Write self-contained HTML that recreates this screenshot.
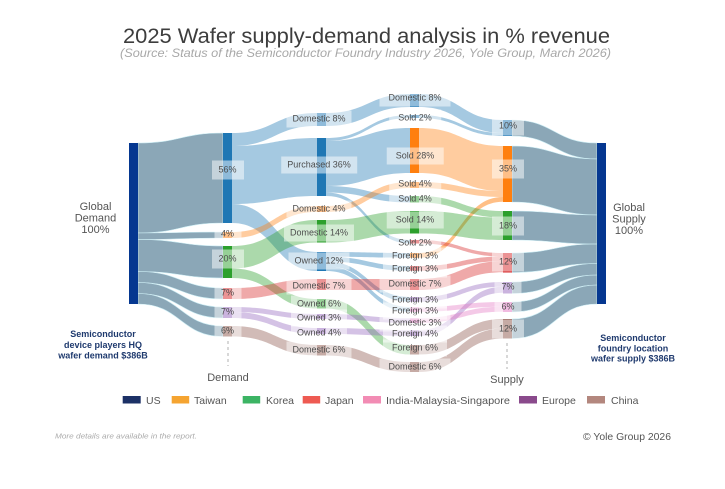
<!DOCTYPE html>
<html>
<head>
<meta charset="utf-8">
<style>
html,body{margin:0;padding:0;background:#fff;}
#wrap{position:relative;width:725px;height:489px;overflow:hidden;background:#fff;font-family:"Liberation Sans",Arial,sans-serif;}
svg{position:absolute;left:0;top:0;}
.lb{position:absolute;transform:translate(-50%,-50%);background:rgba(255,255,255,0.5);color:#4d4d4d;font-size:9px;line-height:11px;white-space:nowrap;font-family:"Liberation Sans",Arial,sans-serif;}
.c1{padding:4px 7px;}
.c2{padding:3px 6px;}
.c3{padding:3px 9px;}
.c4{padding:4px 7px;}
</style>
</head>
<body>
<div id="wrap">
<svg width="725" height="489" viewBox="0 0 725 489" xmlns="http://www.w3.org/2000/svg">
  <!-- Title -->
  <text x="366.5" y="43" text-anchor="middle" font-family="Liberation Sans, Arial, sans-serif" font-size="21.5" fill="#3d3d3d" textLength="487" lengthAdjust="spacingAndGlyphs">2025 Wafer supply-demand analysis in % revenue</text>
  <text x="365.5" y="57" text-anchor="middle" font-family="Liberation Sans, Arial, sans-serif" font-size="11.5" font-style="italic" fill="#a8a8a8" textLength="491" lengthAdjust="spacingAndGlyphs">(Source: Status of the Semiconductor Foundry Industry 2026, Yole Group, March 2026)</text>

  <!-- Gray links: Global demand -> col1 -->
  <g fill="#8ba7b7" stroke="#cdeef5" stroke-width="0.6">
    <path d="M138 143C180.5 143 180.5 133 223 133L223 223C180.5 223 180.5 233 138 233Z"/>
    <path d="M138 233C180.5 233 180.5 232 223 232L223 238C180.5 238 180.5 239.5 138 239.5Z"/>
    <path d="M138 239.5C180.5 239.5 180.5 246 223 246L223 278C180.5 278 180.5 271.5 138 271.5Z"/>
    <path d="M138 271.5C180.5 271.5 180.5 288 223 288L223 299C180.5 299 180.5 282.5 138 282.5Z"/>
    <path d="M138 282.5C180.5 282.5 180.5 307 223 307L223 318C180.5 318 180.5 293.5 138 293.5Z"/>
    <path d="M138 293.5C180.5 293.5 180.5 326 223 326L223 336.5C180.5 336.5 180.5 304 138 304Z"/>
  </g>

  <!-- col1 -> col2 -->
  <g>
    <path fill="rgba(31,119,180,0.4)" d="M232 133C274.5 133 274.5 113 317 113L317 126C274.5 126 274.5 146 232 146Z"/>
    <path fill="rgba(31,119,180,0.4)" d="M232 146C274.5 146 274.5 138 317 138L317 196C274.5 196 274.5 204 232 204Z"/>
    <path fill="rgba(31,119,180,0.4)" d="M232 204C274.5 204 274.5 252 317 252L317 271C274.5 271 274.5 223 232 223Z"/>
    <path fill="rgba(255,127,14,0.4)" d="M232 232C274.5 232 274.5 206 317 206L317 212C274.5 212 274.5 238 232 238Z"/>
    <path fill="rgba(44,160,44,0.4)" d="M232 246C274.5 246 274.5 220 317 220L317 242.5C274.5 242.5 274.5 268.5 232 268.5Z"/>
    <path fill="rgba(44,160,44,0.4)" d="M232 268.5C274.5 268.5 274.5 299 317 299L317 308.5C274.5 308.5 274.5 278 232 278Z"/>
    <path fill="rgba(214,39,40,0.4)" d="M232 288C274.5 288 274.5 279 317 279L317 290C274.5 290 274.5 299 232 299Z"/>
    <path fill="rgba(148,103,189,0.4)" d="M232 307C274.5 307 274.5 314 317 314L317 319C274.5 319 274.5 312 232 312Z"/>
    <path fill="rgba(148,103,189,0.4)" d="M232 312C274.5 312 274.5 328 317 328L317 334C274.5 334 274.5 318 232 318Z"/>
    <path fill="rgba(140,86,75,0.4)" d="M232 326C274.5 326 274.5 345 317 345L317 355.5C274.5 355.5 274.5 336.5 232 336.5Z"/>
  </g>

  <!-- col2 -> col3 -->
  <g>
    <path fill="rgba(31,119,180,0.4)" d="M326 113C368 113 368 94 410 94L410 107C368 107 368 126 326 126Z"/>
    <path fill="rgba(31,119,180,0.4)" d="M326 138C368 138 368 115 410 115L410 118C368 118 368 141 326 141Z"/>
    <path fill="rgba(31,119,180,0.4)" d="M326 141C368 141 368 128 410 128L410 173C368 173 368 186 326 186Z"/>
    <path fill="rgba(31,119,180,0.4)" d="M326 186C368 186 368 196 410 196L410 202.5C368 202.5 368 192.5 326 192.5Z"/>
    <path fill="rgba(31,119,180,0.4)" d="M326 192.5C368 192.5 368 240 410 240L410 243.5C368 243.5 368 196 326 196Z"/>
    <path fill="rgba(255,127,14,0.4)" d="M326 206C368 206 368 182 410 182L410 188C368 188 368 212 326 212Z"/>
    <path fill="rgba(44,160,44,0.4)" d="M326 220C368 220 368 211 410 211L410 233.5C368 233.5 368 242.5 326 242.5Z"/>
    <path fill="rgba(31,119,180,0.4)" d="M326 252C368 252 368 253 410 253L410 257.75C368 257.75 368 256.75 326 256.75Z"/>
    <path fill="rgba(31,119,180,0.4)" d="M326 256.75C368 256.75 368 266 410 266L410 270.75C368 270.75 368 261.5 326 261.5Z"/>
    <path fill="rgba(31,119,180,0.4)" d="M326 261.5C368 261.5 368 297 410 297L410 301.75C368 301.75 368 266.25 326 266.25Z"/>
    <path fill="rgba(31,119,180,0.4)" d="M326 266.25C368 266.25 368 307 410 307L410 311.75C368 311.75 368 271 326 271Z"/>
    <path fill="rgba(214,39,40,0.4)" d="M326 279L410 279L410 290L326 290Z"/>
    <path fill="rgba(44,160,44,0.4)" d="M326 299C368 299 368 345 410 345L410 354.5C368 354.5 368 308.5 326 308.5Z"/>
    <path fill="rgba(148,103,189,0.4)" d="M326 314C368 314 368 318 410 318L410 323C368 323 368 319 326 319Z"/>
    <path fill="rgba(148,103,189,0.4)" d="M326 328C368 328 368 330 410 330L410 336C368 336 368 334 326 334Z"/>
    <path fill="rgba(140,86,75,0.4)" d="M326 345C368 345 368 362 410 362L410 372C368 372 368 355.5 326 355.5Z"/>
  </g>

  <!-- col3 -> col4 -->
  <g>
    <path fill="rgba(31,119,180,0.4)" d="M419 94C461 94 461 120 503 120L503 133C461 133 461 107 419 107Z"/>
    <path fill="rgba(31,119,180,0.4)" d="M419 115C461 115 461 133 503 133L503 136C461 136 461 118 419 118Z"/>
    <path fill="rgba(255,127,14,0.4)" d="M419 128C461 128 461 146 503 146L503 191C461 191 461 173 419 173Z"/>
    <path fill="rgba(255,127,14,0.4)" d="M419 182C461 182 461 191 503 191L503 197C461 197 461 188 419 188Z"/>
    <path fill="rgba(255,127,14,0.5)" d="M419 253C461 253 461 197 503 197L503 201.75C461 201.75 461 257.75 419 257.75Z"/>
    <path fill="rgba(44,160,44,0.4)" d="M419 196C461 196 461 211 503 211L503 217.5C461 217.5 461 202.5 419 202.5Z"/>
    <path fill="rgba(44,160,44,0.4)" d="M419 211C461 211 461 217.5 503 217.5L503 240C461 240 461 233.5 419 233.5Z"/>
    <path fill="rgba(214,39,40,0.4)" d="M419 240C461 240 461 253 503 253L503 256.5C461 256.5 461 243.5 419 243.5Z"/>
    <path fill="rgba(214,39,40,0.4)" d="M419 266C461 266 461 256.5 503 256.5L503 261.25C461 261.25 461 270.75 419 270.75Z"/>
    <path fill="rgba(214,39,40,0.4)" d="M419 279C461 279 461 261.25 503 261.25L503 272.25C461 272.25 461 290 419 290Z"/>
    <path fill="rgba(148,103,189,0.4)" d="M419 297C461 297 461 282 503 282L503 286.75C461 286.75 461 301.75 419 301.75Z"/>
    <path fill="rgba(148,103,189,0.4)" d="M419 330C461 330 461 286.75 503 286.75L503 292.75C461 292.75 461 336 419 336Z"/>
    <path fill="rgba(227,119,194,0.4)" d="M419 307C461 307 461 302 503 302L503 306.75C461 306.75 461 311.75 419 311.75Z"/>
    <path fill="rgba(227,119,194,0.4)" d="M419 318C461 318 461 306.75 503 306.75L503 311.75C461 311.75 461 323 419 323Z"/>
    <path fill="rgba(140,86,75,0.4)" d="M419 345C461 345 461 319 503 319L503 328.5C461 328.5 461 354.5 419 354.5Z"/>
    <path fill="rgba(140,86,75,0.4)" d="M419 362C461 362 461 328.5 503 328.5L503 338.5C461 338.5 461 372 419 372Z"/>
  </g>

  <!-- Gray links col4 -> Global supply -->
  <g fill="#8ba7b7" stroke="#cdeef5" stroke-width="0.6">
    <path d="M512 120C554.5 120 554.5 143 597 143L597 159C554.5 159 554.5 136 512 136Z"/>
    <path d="M512 146C554.5 146 554.5 159 597 159L597 215C554.5 215 554.5 202 512 202Z"/>
    <path d="M512 211C554.5 211 554.5 215 597 215L597 244C554.5 244 554.5 240 512 240Z"/>
    <path d="M512 253C554.5 253 554.5 244 597 244L597 263.5C554.5 263.5 554.5 272.5 512 272.5Z"/>
    <path d="M512 282C554.5 282 554.5 263.5 597 263.5L597 275C554.5 275 554.5 293.5 512 293.5Z"/>
    <path d="M512 302C554.5 302 554.5 275 597 275L597 285C554.5 285 554.5 312 512 312Z"/>
    <path d="M512 319C554.5 319 554.5 285 597 285L597 304C554.5 304 554.5 338.5 512 338.5Z"/>
  </g>

  <!-- Nodes -->
  <rect x="129" y="143" width="9" height="161" fill="#053790"/>
  <rect x="597" y="143" width="9" height="161" fill="#053790"/>

  <!-- col1 -->
  <rect x="223" y="133" width="9" height="90" fill="#1f77b4"/>
  <rect x="223" y="232" width="9" height="6" fill="#ff7f0e"/>
  <rect x="223" y="246" width="9" height="32" fill="#2ca02c"/>
  <rect x="223" y="288" width="9" height="11" fill="#d62728"/>
  <rect x="223" y="307" width="9" height="11" fill="#9467bd"/>
  <rect x="223" y="326" width="9" height="10.5" fill="#8c564b"/>

  <!-- col2 -->
  <rect x="317" y="113" width="9" height="13" fill="#1f77b4"/>
  <rect x="317" y="138" width="9" height="58" fill="#1f77b4"/>
  <rect x="317" y="206" width="9" height="6" fill="#ff7f0e"/>
  <rect x="317" y="220" width="9" height="22.5" fill="#2ca02c"/>
  <rect x="317" y="252" width="9" height="19" fill="#1f77b4"/>
  <rect x="317" y="279" width="9" height="11" fill="#d62728"/>
  <rect x="317" y="299" width="9" height="9.5" fill="#2ca02c"/>
  <rect x="317" y="314" width="9" height="5" fill="#9467bd"/>
  <rect x="317" y="328" width="9" height="6" fill="#9467bd"/>
  <rect x="317" y="345" width="9" height="10.5" fill="#8c564b"/>

  <!-- col3 -->
  <rect x="410" y="94" width="9" height="13" fill="#1f77b4"/>
  <rect x="410" y="115" width="9" height="3" fill="#1f77b4"/>
  <rect x="410" y="128" width="9" height="45" fill="#ff7f0e"/>
  <rect x="410" y="182" width="9" height="6" fill="#ff7f0e"/>
  <rect x="410" y="196" width="9" height="6.5" fill="#2ca02c"/>
  <rect x="410" y="211" width="9" height="22.5" fill="#2ca02c"/>
  <rect x="410" y="240" width="9" height="3.5" fill="#d62728"/>
  <rect x="410" y="253" width="9" height="4.75" fill="#ff7f0e"/>
  <rect x="410" y="266" width="9" height="4.75" fill="#d62728"/>
  <rect x="410" y="279" width="9" height="11" fill="#d62728"/>
  <rect x="410" y="297" width="9" height="4.75" fill="#9467bd"/>
  <rect x="410" y="307" width="9" height="4.75" fill="#e377c2"/>
  <rect x="410" y="318" width="9" height="5" fill="#e377c2"/>
  <rect x="410" y="330" width="9" height="6" fill="#9467bd"/>
  <rect x="410" y="345" width="9" height="9.5" fill="#8c564b"/>
  <rect x="410" y="362" width="9" height="10" fill="#8c564b"/>

  <!-- col4 -->
  <rect x="503" y="120" width="9" height="16" fill="#1f77b4"/>
  <rect x="503" y="146" width="9" height="56" fill="#ff7f0e"/>
  <rect x="503" y="211" width="9" height="29" fill="#2ca02c"/>
  <rect x="503" y="253" width="9" height="19.5" fill="#d62728"/>
  <rect x="503" y="282" width="9" height="11.5" fill="#9467bd"/>
  <rect x="503" y="302" width="9" height="10" fill="#e377c2"/>
  <rect x="503" y="319" width="9" height="19.5" fill="#8c564b"/>

  <!-- dashed guides -->
  <line x1="228" y1="341" x2="228" y2="366" stroke="#b0b0b0" stroke-width="1" stroke-dasharray="3,3"/>
  <line x1="507" y1="343" x2="507" y2="369" stroke="#b0b0b0" stroke-width="1" stroke-dasharray="3,3"/>

  <!-- side labels -->
  <g font-family="Liberation Sans, Arial, sans-serif" font-size="11" fill="#555" text-anchor="middle">
    <text x="95.5" y="210">Global</text>
    <text x="95.5" y="221.5">Demand</text>
    <text x="95.5" y="233">100%</text>
    <text x="629" y="211">Global</text>
    <text x="629" y="222.5">Supply</text>
    <text x="629" y="234">100%</text>
    <text x="228" y="381">Demand</text>
    <text x="507" y="383">Supply</text>
  </g>
  <g font-family="Liberation Sans, Arial, sans-serif" font-size="9" font-weight="bold" fill="#1f3a6e" text-anchor="middle">
    <text x="103" y="337">Semiconductor</text>
    <text x="103" y="348">device players HQ</text>
    <text x="103" y="358.5">wafer demand $386B</text>
    <text x="633" y="341">Semiconductor</text>
    <text x="633" y="351.5">foundry location</text>
    <text x="633" y="361.5">wafer supply $386B</text>
  </g>

  <!-- Legend -->
  <g font-family="Liberation Sans, Arial, sans-serif" font-size="10.5" fill="#555">
    <rect x="122.7" y="396" width="18" height="7.5" fill="#1c3166"/>
    <text x="146" y="404">US</text>
    <rect x="171.7" y="396" width="17.5" height="7.5" fill="#f5a431"/>
    <text x="194" y="404">Taiwan</text>
    <rect x="242.7" y="396" width="17.5" height="7.5" fill="#3cb464"/>
    <text x="266" y="404">Korea</text>
    <rect x="302.7" y="396" width="17.5" height="7.5" fill="#ee5a52"/>
    <text x="325" y="404">Japan</text>
    <rect x="363" y="396" width="18" height="7.5" fill="#f28cb4"/>
    <text x="386" y="404" textLength="124" lengthAdjust="spacingAndGlyphs">India-Malaysia-Singapore</text>
    <rect x="519" y="396" width="18" height="7.5" fill="#8a4a8c"/>
    <text x="542" y="404">Europe</text>
    <rect x="587" y="396" width="18" height="7.5" fill="#b3877e"/>
    <text x="611" y="404">China</text>
  </g>

  <!-- Footer -->
  <text x="55" y="438.5" font-family="Liberation Sans, Arial, sans-serif" font-size="7" font-style="italic" fill="#aaa" textLength="142" lengthAdjust="spacingAndGlyphs">More details are available in the report.</text>
  <text x="583" y="440" font-family="Liberation Sans, Arial, sans-serif" font-size="10.5" fill="#555" textLength="88" lengthAdjust="spacingAndGlyphs">© Yole Group 2026</text>
</svg>

<!-- Node labels -->
<div class="lb c1" style="left:227.5px;top:170px;">56%</div>
<div class="lb c1" style="left:227.5px;top:234px;">4%</div>
<div class="lb c1" style="left:227.5px;top:259px;">20%</div>
<div class="lb c1" style="left:227.5px;top:293px;">7%</div>
<div class="lb c1" style="left:227.5px;top:312px;">7%</div>
<div class="lb c1" style="left:227.5px;top:331px;">6%</div>

<div class="lb c2" style="left:319px;top:119px;">Domestic 8%</div>
<div class="lb c2" style="left:319px;top:165px;">Purchased 36%</div>
<div class="lb c2" style="left:319px;top:209px;">Domestic 4%</div>
<div class="lb c2" style="left:319px;top:233px;">Domestic 14%</div>
<div class="lb c2" style="left:319px;top:261px;">Owned 12%</div>
<div class="lb c2" style="left:319px;top:286px;">Domestic 7%</div>
<div class="lb c2" style="left:319px;top:304px;">Owned 6%</div>
<div class="lb c2" style="left:319px;top:318px;">Owned 3%</div>
<div class="lb c2" style="left:319px;top:333px;">Owned 4%</div>
<div class="lb c2" style="left:319px;top:350px;">Domestic 6%</div>

<div class="lb c3" style="left:415px;top:98px;">Domestic 8%</div>
<div class="lb c3" style="left:415px;top:118px;">Sold 2%</div>
<div class="lb c3" style="left:415px;top:156px;">Sold 28%</div>
<div class="lb c3" style="left:415px;top:184px;">Sold 4%</div>
<div class="lb c3" style="left:415px;top:199px;">Sold 4%</div>
<div class="lb c3" style="left:415px;top:220px;">Sold 14%</div>
<div class="lb c3" style="left:415px;top:243px;">Sold 2%</div>
<div class="lb c3" style="left:415px;top:256px;">Foreign 3%</div>
<div class="lb c3" style="left:415px;top:269px;">Foreign 3%</div>
<div class="lb c3" style="left:415px;top:284px;">Domestic 7%</div>
<div class="lb c3" style="left:415px;top:300px;">Foreign 3%</div>
<div class="lb c3" style="left:415px;top:311px;">Foreign 3%</div>
<div class="lb c3" style="left:415px;top:323px;">Domestic 3%</div>
<div class="lb c3" style="left:415px;top:334px;">Foreign 4%</div>
<div class="lb c3" style="left:415px;top:348px;">Foreign 6%</div>
<div class="lb c3" style="left:415px;top:367px;">Domestic 6%</div>

<div class="lb c4" style="left:508px;top:126px;">10%</div>
<div class="lb c4" style="left:508px;top:169px;">35%</div>
<div class="lb c4" style="left:508px;top:226px;">18%</div>
<div class="lb c4" style="left:508px;top:262px;">12%</div>
<div class="lb c4" style="left:508px;top:287px;">7%</div>
<div class="lb c4" style="left:508px;top:307px;">6%</div>
<div class="lb c4" style="left:508px;top:329px;">12%</div>
</div>
</body>
</html>
